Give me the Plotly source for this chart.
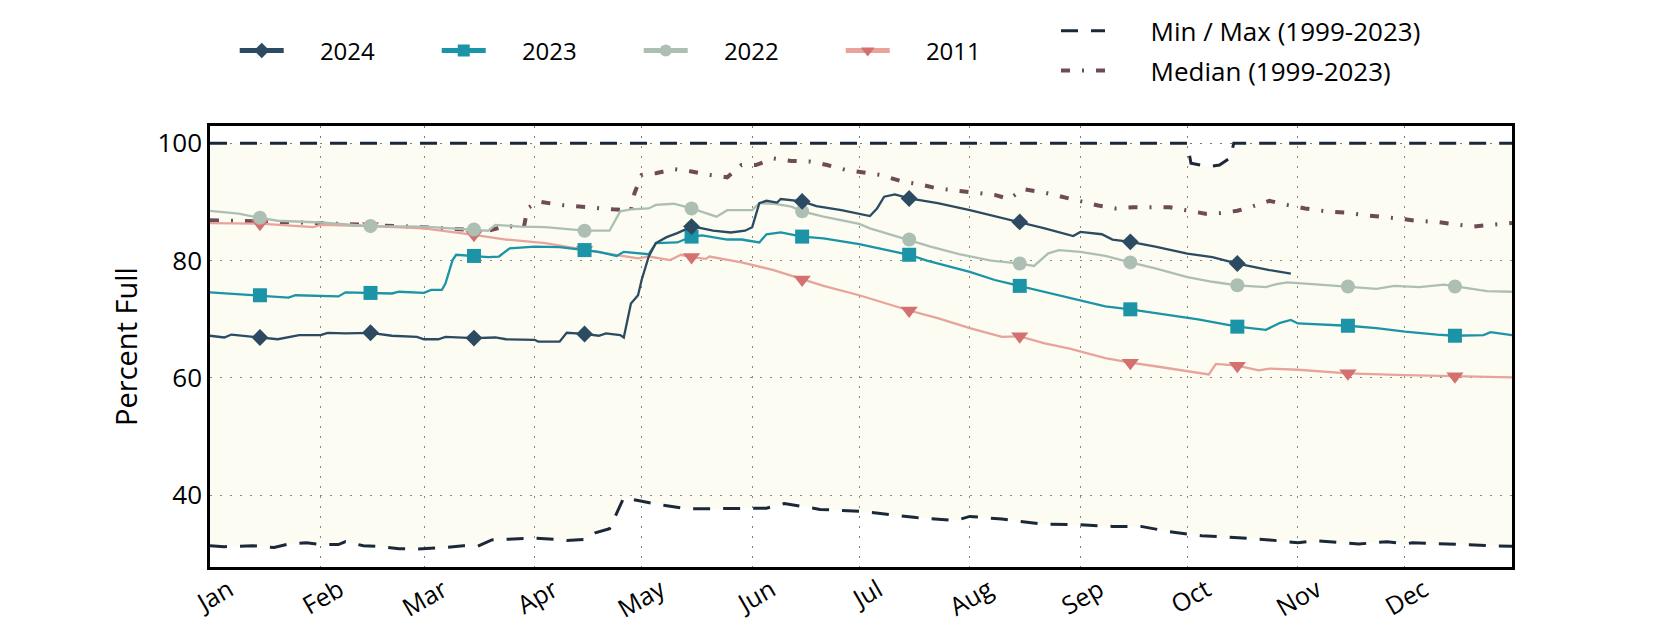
import plotly.graph_objects as go

YEAR = "2024-"

# daily storage readings (percent full)
dates_2024 = ["01-01", "01-05", "01-07", "01-15", "01-20", "01-26", "02-01", "02-03", "02-08", "02-15", "02-21", "02-28",
              "03-01", "03-05", "03-07", "03-15", "03-21", "03-24", "04-01", "04-02", "04-08", "04-10", "04-15", "04-19",
              "04-21", "04-25", "04-26", "04-28", "04-30", "05-01", "05-03", "05-05", "05-08", "05-11", "05-15", "05-18",
              "05-21", "05-26", "05-30", "06-01", "06-03", "06-05", "06-08", "06-09", "06-15", "06-19", "06-26", "07-04",
              "07-06", "07-08", "07-11", "07-15", "07-23", "08-01", "08-09", "08-15", "08-22", "08-30", "09-01", "09-07",
              "09-10", "09-15", "09-22", "10-01", "10-08", "10-15", "10-24", "10-30"]
vals_2024 = [67.2, 66.9, 67.4, 66.9, 66.6, 67.3, 67.3, 67.7, 67.6, 67.7, 67.2, 67.0,
             66.6, 66.6, 67.0, 66.8, 66.9, 66.6, 66.5, 66.2, 66.2, 67.7, 67.5, 67.2,
             67.6, 67.3, 66.9, 72.7, 74.1, 76.7, 80.7, 83.0, 84.0, 84.7, 85.8, 85.5,
             85.1, 84.8, 85.1, 85.7, 89.8, 90.2, 89.9, 90.5, 90.1, 89.3, 88.6, 87.6,
             88.9, 90.9, 91.3, 90.6, 89.8, 88.6, 87.4, 86.6, 85.5, 84.2, 84.9, 84.5,
             83.6, 83.2, 82.4, 81.2, 80.6, 79.5, 78.4, 77.8]

dates_2023 = ["01-01", "01-15", "01-23", "01-25", "02-01", "02-06", "02-08", "02-15", "02-21", "02-23",
              "03-01", "03-03", "03-06", "03-07", "03-09", "03-10", "03-15", "03-19", "03-22", "03-25",
              "04-01", "04-08", "04-15", "04-19", "04-24", "04-26", "05-03", "05-05", "05-11", "05-15",
              "05-18", "05-25", "05-29", "06-03", "06-05", "06-09", "06-15", "06-21", "07-01", "07-10",
              "07-15", "07-20", "08-01", "08-08", "08-15", "08-20", "08-29", "09-08", "09-15", "09-22",
              "10-01", "10-04", "10-15", "10-23", "10-27", "10-30", "11-01", "11-07", "11-15", "11-23",
              "12-01", "12-10", "12-15", "12-23", "12-25", "12-31"]
vals_2023 = [74.6, 74.1, 73.7, 74.1, 74.0, 73.9, 74.6, 74.5, 74.4, 74.7,
             74.5, 75.0, 75.0, 76.1, 80.1, 81.0, 80.8, 80.6, 80.7, 82.1,
             82.4, 82.3, 81.8, 81.5, 80.8, 81.5, 81.1, 83.0, 83.1, 84.1,
             84.3, 83.6, 83.6, 83.1, 84.5, 84.8, 84.1, 83.8, 82.8, 81.7,
             81.0, 80.0, 78.1, 76.7, 75.7, 75.0, 73.6, 72.2, 71.7, 71.1,
             70.3, 70.0, 68.75, 68.2, 69.4, 69.9, 69.3, 69.1, 68.9, 68.5,
             67.9, 67.4, 67.2, 67.3, 67.8, 67.3]

dates_2022 = ["01-01", "01-09", "01-15", "01-20", "02-01", "02-15", "03-01", "03-15", "03-19", "03-21",
              "03-28", "04-04", "04-08", "04-15", "04-22", "04-25", "04-28", "05-03", "05-05", "05-10",
              "05-15", "05-19", "05-22", "05-25", "06-01", "06-03", "06-07", "06-12", "06-15", "06-21",
              "07-01", "07-04", "07-10", "07-15", "07-21", "07-29", "08-07", "08-15", "08-19", "08-23",
              "08-26", "09-01", "09-08", "09-15", "09-22", "10-01", "10-08", "10-15", "10-23", "10-26",
              "10-29", "11-07", "11-15", "11-23", "11-28", "12-05", "12-12", "12-15", "12-24", "12-31"]
vals_2022 = [88.5, 88.0, 87.3, 86.8, 86.5, 85.9, 85.8, 85.3, 85.1, 86.1,
             85.8, 85.7, 85.5, 85.1, 85.1, 88.4, 88.75, 88.9, 89.5, 89.7,
             88.9, 88.1, 87.5, 88.6, 88.6, 89.8, 89.7, 89.2, 88.4, 87.5,
             86.25, 85.5, 84.4, 83.6, 82.4, 81.1, 80.0, 79.5, 79.1, 81.25,
             81.8, 81.5, 80.8, 79.7, 78.7, 77.2, 76.4, 75.8, 75.5, 76.0,
             76.3, 75.9, 75.6, 75.2, 75.7, 75.5, 75.9, 75.6, 74.8, 74.7]

dates_2011 = ["01-01", "01-15", "01-30", "02-01", "02-15", "03-01", "03-15", "03-24", "04-04", "04-15",
              "04-21", "04-30", "05-03", "05-09", "05-12", "05-15", "05-19", "05-20", "05-29", "06-07",
              "06-15", "06-21", "07-01", "07-15", "07-23", "08-01", "08-10", "08-15", "08-22", "08-29",
              "09-08", "09-15", "09-22", "10-01", "10-07", "10-09", "10-15", "10-21", "10-24", "11-01",
              "11-15", "12-01", "12-15", "12-31"]
vals_2011 = [86.4, 86.3, 85.7, 86.1, 85.9, 85.5, 84.4, 83.6, 83.0, 81.8,
             81.25, 80.4, 80.7, 80.1, 81.0, 80.6, 80.3, 80.7, 79.7, 78.4,
             76.8, 75.7, 74.1, 71.5, 70.2, 68.5, 67.0, 67.1, 65.9, 65.0,
             63.4, 62.6, 62.0, 61.1, 60.6, 62.4, 62.1, 61.3, 61.6, 61.4,
             60.8, 60.5, 60.3, 60.1]

dates_median = ["01-01", "02-01", "03-01", "03-19", "03-24", "03-29", "03-30", "04-02", "04-08", "04-17",
                "04-23", "04-28", "04-29", "05-01", "05-05", "05-10", "05-15", "05-20", "05-25", "05-29",
                "06-02", "06-07", "06-12", "06-17", "06-22", "06-27", "07-03", "07-07", "07-13", "07-18",
                "07-23", "07-29", "08-02", "08-08", "08-12", "08-16", "08-22", "08-27", "09-01", "09-06",
                "09-11", "09-16", "09-26", "10-01", "10-06", "10-10", "10-15", "10-19", "10-24", "10-29",
                "11-03", "11-09", "11-14", "11-19", "11-25", "11-29", "12-04", "12-10", "12-15", "12-20",
                "12-25", "12-31"]
vals_median = [86.9, 86.4, 85.7, 85.1, 85.9, 85.7, 88.9, 90.1, 89.5, 89.0,
               88.75, 88.6, 91.5, 94.6, 94.9, 95.6, 95.2, 94.6, 94.2, 96.3,
               96.3, 97.4, 97.0, 96.9, 96.3, 95.5, 94.9, 94.6, 93.5, 93.0,
               92.3, 91.9, 91.5, 91.2, 90.5, 92.2, 91.6, 90.9, 90.1, 89.4,
               88.9, 89.1, 89.1, 88.5, 88.0, 88.1, 88.5, 89.2, 90.2, 89.5,
               88.9, 88.4, 88.2, 87.8, 87.5, 87.2, 86.8, 86.6, 86.2, 85.8,
               86.1, 86.4]

dates_min = ["01-01", "01-05", "01-13", "01-19", "01-23", "01-28", "02-01", "02-06", "02-08", "02-13",
             "02-18", "02-23", "02-28", "03-04", "03-07", "03-12", "03-16", "03-20", "03-24", "03-29",
             "04-01", "04-07", "04-10", "04-15", "04-18", "04-22", "04-24", "04-26", "04-30", "05-07",
             "05-14", "05-25", "06-05", "06-10", "06-20", "07-01", "07-09", "07-17", "07-28", "08-01",
             "08-10", "08-21", "08-31", "09-10", "09-18", "09-26", "10-05", "10-12", "10-24", "11-01",
             "11-06", "11-18", "11-26", "12-01", "12-03", "12-13", "12-31"]
vals_min = [31.4, 31.25, 31.4, 31.1, 31.7, 31.9, 31.6, 31.6, 32.1, 31.4,
            31.25, 30.9, 30.85, 31.0, 31.1, 31.4, 31.3, 32.4, 32.5, 32.6,
            32.7, 32.5, 32.3, 32.5, 33.6, 34.3, 36.9, 39.6, 39.1, 38.3,
            37.7, 37.7, 37.8, 38.6, 37.6, 37.3, 36.8, 36.2, 35.7, 36.4,
            35.95, 35.1, 35.0, 34.7, 34.7, 33.8, 33.1, 32.9, 32.4, 31.9,
            32.25, 31.7, 32.1, 31.7, 31.9, 31.7, 31.3]

dates_max = ["01-01", "10-01", "10-02", "10-07", "10-10", "10-13", "10-14", "12-31"]
vals_max = [100, 100, 96.6, 96.0, 96.3, 97.5, 100, 100]

years = [
    # name, dates, values, line colour, marker colour, symbol, marker size
    ("2011", dates_2011, vals_2011, "#e8a39b", "#d4706f", "triangle-down", 15),
    ("2022", dates_2022, vals_2022, "#adbfb3", "#adbfb3", "circle", 14),
    ("2023", dates_2023, vals_2023, "#1a94a6", "#1a94a6", "square", 14),
    ("2024", dates_2024, vals_2024, "#2c4a61", "#2c4a61", "diamond", 13),
]

FONT = "Open Sans"
MINMAX = "#1b2838"
PAD = "\u00a0" * 5   # extra room between legend symbol and label
PAD2 = "\u00a0" * 6


def full(dates):
    return [YEAR + d for d in dates]


fig = go.Figure()

# shaded band between historical min and max
fig.add_trace(go.Scatter(x=full(dates_max), y=vals_max, mode="lines", line=dict(width=0),
                         showlegend=False, hoverinfo="skip"))
fig.add_trace(go.Scatter(x=full(dates_min), y=vals_min, mode="lines", line=dict(width=0),
                         fill="tonexty", fillcolor="rgba(238,238,170,0.15)",
                         showlegend=False, hoverinfo="skip"))

fig.add_trace(go.Scatter(x=full(dates_max), y=vals_max, mode="lines", name=PAD2 + "Min / Max (1999-2023)",
                         line=dict(color=MINMAX, width=3, dash="17px,13px"),
                         legend="legend2", legendgroup="minmax", showlegend=False))
fig.add_trace(go.Scatter(x=full(dates_min), y=vals_min, mode="lines", name=PAD2 + "Min / Max (1999-2023)",
                         line=dict(color=MINMAX, width=3, dash="17px,13px"),
                         legend="legend2", legendgroup="minmax"))
fig.add_trace(go.Scatter(x=full(dates_median), y=vals_median, mode="lines", name=PAD2 + "Median (1999-2023)",
                         line=dict(color="#6e4b55", width=4, dash="9px,12px,2px,12px"),
                         legend="legend2", legendgroup="median"))

for name, d, v, lc, mc, sym, ms in years:
    sizes = [ms if day.endswith("-15") else 0 for day in d]
    fig.add_trace(go.Scatter(
        x=full(d), y=v, mode="lines+markers", name=PAD + name,
        line=dict(color=lc, width=2.3),
        marker=dict(symbol=sym, size=sizes, color=mc, opacity=1, line=dict(width=0)),
    ))

fig.update_layout(
    width=1672, height=622,
    margin=dict(l=202, r=168, t=118, b=63, autoexpand=False),
    paper_bgcolor="white", plot_bgcolor="white",
    font=dict(family=FONT, size=24, color="black"),
    hovermode=False,
    legend=dict(orientation="h", xref="container", yref="container", x=0.1356, y=0.931,
                xanchor="left", yanchor="middle", font=dict(size=24), itemsizing="constant",
                traceorder="reversed", itemwidth=44, entrywidth=143, bgcolor="rgba(0,0,0,0)"),
    legend2=dict(orientation="v", xref="container", yref="container", x=0.6268, y=0.931,
                 xanchor="left", yanchor="middle", font=dict(size=26), traceorder="grouped",
                 itemwidth=44, tracegroupgap=3, bgcolor="rgba(0,0,0,0)"),
)

fig.update_xaxes(
    type="date", range=["2024-01-01", "2024-12-31"],
    tickformat="%b", dtick="M1", tick0="2024-01-01", tickangle=-30, ticklabelshift=19,
    ticklabelstandoff=-4,
    showline=True, linecolor="black", linewidth=2.5, mirror=True,
    showgrid=True, gridcolor="#777777", gridwidth=1, griddash="2px,8px",
    ticks="", zeroline=False, tickfont=dict(size=25),
)
fig.update_yaxes(
    range=[27.78, 102.95], tickvals=[40, 60, 80, 100],
    showline=True, linecolor="black", linewidth=2.5, mirror=True,
    showgrid=True, gridcolor="#777777", gridwidth=1, griddash="2px,8px",
    ticks="", zeroline=False, tickfont=dict(size=26),
    title=dict(text="Percent Full", font=dict(size=29), standoff=12),
)

fig.write_html("out.html", config={"displayModeBar": False})
